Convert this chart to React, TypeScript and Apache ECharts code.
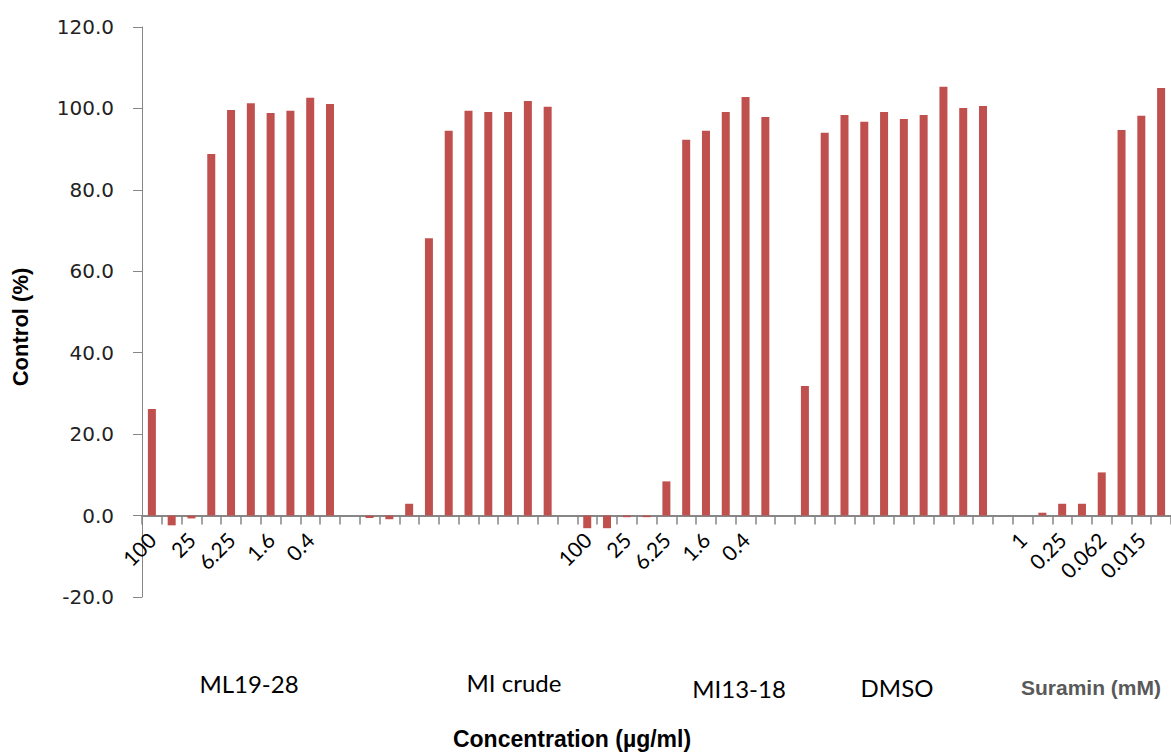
import React, { useEffect, useRef } from "react";
import * as echarts from "echarts";

// Values (Control %, per concentration)
const ml1928 = [26.2, -2.4, -0.7, 88.8, 99.6, 101.3, 98.9, 99.4, 102.6, 101.1];
const miCrude = [-0.6, -0.9, 2.9, 68.1, 94.5, 99.4, 99.1, 99.1, 101.8, 100.4];
const mi1318 = [-3.1, -3.1, -0.4, -0.4, 8.4, 92.3, 94.5, 99.1, 102.8, 97.9];
const dmso = [31.8, 94.0, 98.4, 96.7, 99.1, 97.4, 98.4, 105.3, 100.1, 100.6];
const suramin = [0, 0.7, 2.9, 2.9, 10.6, 94.7, 98.2, 105.0];

// Tick labels per group (blank = unlabeled category)
const ugLabels = ["100", "", "25", "", "6.25", "", "1.6", "", "0.4", ""];
const blankLabels = ["", "", "", "", "", "", "", "", "", ""];
const suraminLabels = ["1", "", "0.25", "", "0.062", "", "0.015", ""];

const groupNames = ["ML19-28", "MI crude", "MI13-18", "DMSO"];
const yTicks = { min: -20, max: 120, interval: 20 };

const values: (number | null)[] = [
  ...ml1928, null,
  ...miCrude, null,
  ...mi1318, null,
  ...dmso, null,
  ...suramin,
];
const tickLabels: string[] = [
  ...ugLabels, "",
  ...blankLabels, "",
  ...ugLabels, "",
  ...blankLabels, "",
  ...suraminLabels,
];
const categories = values.map((_, i) => "c" + i);

export default function App() {
  const ref = useRef<HTMLDivElement>(null);
  useEffect(() => {
    if (!ref.current) return;
    const chart = echarts.init(ref.current, null, { renderer: "svg" });
    const axisGray = "#868686";
    const option = {
      animation: false,
      backgroundColor: "#ffffff",
      grid: { left: 142, top: 27, width: 1036, height: 570, containLabel: false },
      xAxis: {
        type: "category",
        data: categories,
        boundaryGap: true,
        axisLine: { show: true, onZero: true, lineStyle: { color: axisGray, width: 2 } },
        axisTick: { show: true, interval: 0, length: 9, lineStyle: { color: axisGray, width: 1.5 } },
        axisLabel: {
          interval: 0,
          rotate: 45,
          margin: -61,
          fontFamily: "Lato",
          fontSize: 21,
          color: "#000",
          formatter: (_v: string, i: number) => tickLabels[i],
        },
        splitLine: { show: false },
      },
      yAxis: {
        type: "value",
        min: yTicks.min,
        max: yTicks.max,
        interval: yTicks.interval,
        axisLine: { show: true, lineStyle: { color: axisGray, width: 1 } },
        axisTick: { show: true, length: 9, lineStyle: { color: axisGray } },
        axisLabel: {
          margin: 28,
          fontFamily: "DejaVu Sans",
          fontSize: 20,
          color: "#222",
          formatter: (v: number) => v.toFixed(1),
        },
        splitLine: { show: false },
      },
      series: [
        {
          type: "bar",
          data: values,
          barWidth: 8,
          itemStyle: { color: "#C0504D" },
        },
      ],
      graphic: [
        { type: "text", x: 249, y: 683, style: { text: groupNames[0], font: "24px Lato", fill: "#000", align: "center", verticalAlign: "middle" } },
        { type: "text", x: 514, y: 682, style: { text: groupNames[1], font: "24px Lato", fill: "#000", align: "center", verticalAlign: "middle" } },
        { type: "text", x: 739, y: 688, style: { text: groupNames[2], font: "24px Lato", fill: "#000", align: "center", verticalAlign: "middle" } },
        { type: "text", x: 897, y: 687, style: { text: groupNames[3], font: "24px Lato", fill: "#000", align: "center", verticalAlign: "middle" } },
        { type: "text", x: 1091, y: 687, style: { text: "Suramin (mM)", font: "bold 21px 'Liberation Sans'", fill: "#595959", align: "center", verticalAlign: "middle" } },
        { type: "text", x: 572, y: 739, style: { text: "Concentration (µg/ml)", font: "bold 23px 'Liberation Sans'", fill: "#000", align: "center", verticalAlign: "middle" } },
        { type: "text", x: 20, y: 327, rotation: Math.PI / 2, style: { text: "Control (%)", font: "bold 22px 'Liberation Sans'", fill: "#000", align: "center", verticalAlign: "middle" } },
      ],
    };
    chart.setOption(option as any);
    return () => chart.dispose();
  }, []);
  return (
    <div
      ref={ref}
      style={{ position: "absolute", left: 0, top: 0, width: 1171, height: 753 }}
    />
  );
}
